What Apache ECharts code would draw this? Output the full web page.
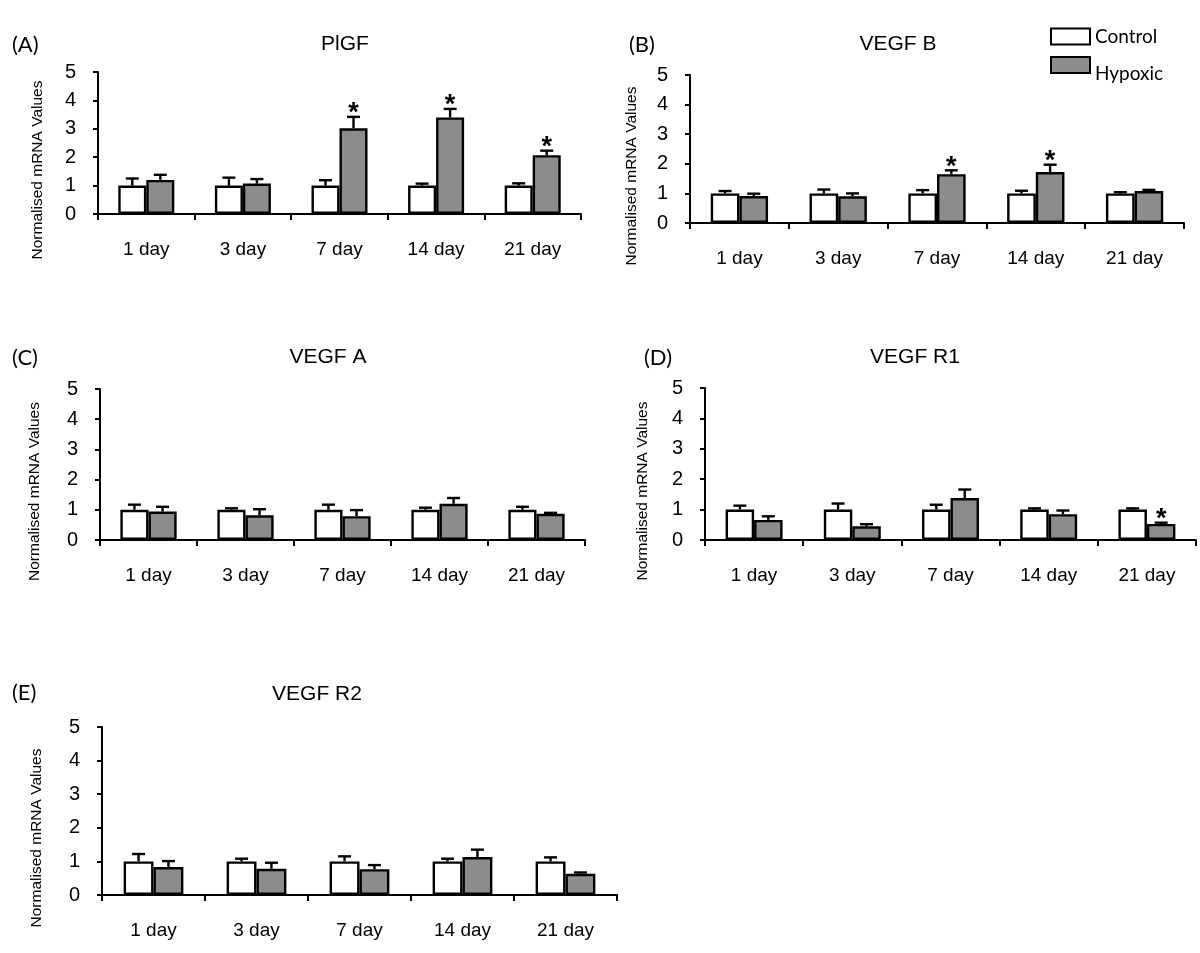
<!DOCTYPE html>
<html>
<head>
<meta charset="utf-8">
<script src="https://cdn.jsdelivr.net/npm/echarts@6/dist/echarts.min.js"></script>
<style>
html,body{margin:0;padding:0;background:#fff;}
#chart{width:1200px;height:953px;}
</style>
</head>
<body>
<div id="chart"></div>
<script>
// ---------- data ----------
const categories = ['1 day', '3 day', '7 day', '14 day', '21 day'];
const yTicks = [0, 1, 2, 3, 4, 5];

const panelLetters = ['(A)', '(B)', '(C)', '(D)', '(E)'];
const panelTitles = ['PlGF', 'VEGF B', 'VEGF A', 'VEGF R1', 'VEGF R2'];
const seriesNames = ['Control', 'Hypoxic'];
const yAxisName = 'Normalised mRNA Values';

// PlGF
const plgfControl = [1.0, 1.0, 1.0, 1.0, 1.0];
const plgfControlErr = [0.25, 0.28, 0.19, 0.07, 0.08];
const plgfHypoxic = [1.2, 1.07, 3.02, 3.4, 2.07];
const plgfHypoxicErr = [0.18, 0.16, 0.4, 0.3, 0.16];
const plgfSig = [0, 0, 1, 1, 1];

// VEGF B
const vegfbControl = [1.0, 1.0, 1.0, 1.0, 1.0];
const vegfbControlErr = [0.08, 0.13, 0.11, 0.09, 0.04];
const vegfbHypoxic = [0.91, 0.9, 1.65, 1.72, 1.08];
const vegfbHypoxicErr = [0.08, 0.1, 0.13, 0.25, 0.04];
const vegfbSig = [0, 0, 1, 1, 0];

// VEGF A
const vegfaControl = [1.0, 1.0, 1.0, 1.0, 1.0];
const vegfaControlErr = [0.17, 0.05, 0.17, 0.07, 0.1];
const vegfaHypoxic = [0.94, 0.82, 0.79, 1.2, 0.87];
const vegfaHypoxicErr = [0.16, 0.2, 0.2, 0.19, 0.03];
const vegfaSig = [0, 0, 0, 0, 0];

// VEGF R1
const vegfr1Control = [1.0, 1.0, 1.0, 1.0, 1.0];
const vegfr1ControlErr = [0.13, 0.2, 0.16, 0.04, 0.04];
const vegfr1Hypoxic = [0.66, 0.45, 1.38, 0.85, 0.53];
const vegfr1HypoxicErr = [0.12, 0.07, 0.28, 0.12, 0.04];
const vegfr1Sig = [0, 0, 0, 0, 1];

// VEGF R2
const vegfr2Control = [1.0, 1.0, 1.0, 1.0, 1.0];
const vegfr2ControlErr = [0.22, 0.08, 0.15, 0.08, 0.12];
const vegfr2Hypoxic = [0.83, 0.78, 0.77, 1.13, 0.63];
const vegfr2HypoxicErr = [0.18, 0.18, 0.12, 0.22, 0.04];
const vegfr2Sig = [0, 0, 0, 0, 0];

const panels = [
  [plgfControl, plgfControlErr, plgfHypoxic, plgfHypoxicErr, plgfSig],
  [vegfbControl, vegfbControlErr, vegfbHypoxic, vegfbHypoxicErr, vegfbSig],
  [vegfaControl, vegfaControlErr, vegfaHypoxic, vegfaHypoxicErr, vegfaSig],
  [vegfr1Control, vegfr1ControlErr, vegfr1Hypoxic, vegfr1HypoxicErr, vegfr1Sig],
  [vegfr2Control, vegfr2ControlErr, vegfr2Hypoxic, vegfr2HypoxicErr, vegfr2Sig]
];

// ---------- layout (styles, not data) ----------
const grids = [
  {left: 98, top: 72, width: 483, height: 142},
  {left: 690, top: 75, width: 494, height: 148},
  {left: 100, top: 389, width: 485, height: 151},
  {left: 705, top: 388, width: 491, height: 152},
  {left: 102, top: 727, width: 515, height: 168}
];
const nameGaps = [52, 50, 57, 54, 57];
const letterPos = [[7, 29], [624, 29], [7, 342], [639, 342], [7, 677]];
const titlePos = [[340, 29], [893, 29], [323, 342], [910, 342], [312, 679]];

const GAP_RATIO = 0.42;
const FILL = ['#ffffff', '#8c8c8c'];
const AXIS_FONT = '"Liberation Sans", Arial, sans-serif';
const LABEL_FONT = 'Lato, "Open Sans", sans-serif';

function errRender(params, api) {
  const idx = api.value(0);
  const val = api.value(1);
  const err = api.value(2);
  const side = api.value(3);
  const sig = api.value(4);
  const band = api.size([1, 0])[0];
  const bw = band * (1 - GAP_RATIO) / 2;
  const cx = api.coord([idx, 0])[0] + (side ? bw / 2 : -bw / 2);
  const yBar = api.coord([idx, val])[1];
  const yTop = api.coord([idx, val + err])[1];
  const style = {stroke: '#000', lineWidth: 2.4};
  const children = [
    {type: 'line', shape: {x1: cx, y1: yBar, x2: cx, y2: yTop}, style: style},
    {type: 'line', shape: {x1: cx - 6.5, y1: yTop, x2: cx + 6.5, y2: yTop}, style: style}
  ];
  if (sig) {
    children.push({
      type: 'text',
      style: {
        text: '*', x: cx, y: yTop - 3,
        textAlign: 'center', textVerticalAlign: 'middle',
        font: 'bold 27px ' + AXIS_FONT, fill: '#000'
      }
    });
  }
  return {type: 'group', children: children};
}

const option = {
  backgroundColor: '#fff',
  animation: false,
  title: [],
  legend: {
    orient: 'vertical',
    left: 1045,
    top: 22,
    itemWidth: 39,
    itemHeight: 16,
    itemGap: 10,
    icon: 'rect',
    textStyle: {
      fontFamily: LABEL_FONT, fontSize: 19, color: '#000',
      rich: {
        up: {fontFamily: LABEL_FONT, fontSize: 19, color: '#000'},
        down: {fontFamily: LABEL_FONT, fontSize: 19, color: '#000', padding: [18, 0, 0, 0]}
      }
    },
    formatter: function (name) {
      return name === 'Hypoxic' ? '{down|' + name + '}' : '{up|' + name + '}';
    },
    data: ['Control', 'Hypoxic']
  },
  grid: [],
  xAxis: [],
  yAxis: [],
  series: []
};

panels.forEach(function (p, k) {
  option.title.push({
    text: panelLetters[k], left: letterPos[k][0], top: letterPos[k][1],
    textStyle: {fontFamily: LABEL_FONT, fontWeight: 'normal', fontSize: 22, color: '#000'}
  });
  option.title.push({
    text: panelTitles[k], left: titlePos[k][0], top: titlePos[k][1], textAlign: 'center',
    textStyle: {fontFamily: AXIS_FONT, fontWeight: 'normal', fontSize: 21, color: '#000'}
  });
  option.grid.push(Object.assign({containLabel: false}, grids[k]));
  option.xAxis.push({
    type: 'category', gridIndex: k, data: categories,
    axisLine: {lineStyle: {color: '#000', width: 2}},
    axisTick: {show: true, alignWithLabel: false, length: 6, lineStyle: {color: '#000', width: 2}},
    axisLabel: {margin: 26, fontFamily: AXIS_FONT, fontSize: 19, color: '#000', interval: 0},
    splitLine: {show: false}
  });
  option.yAxis.push({
    type: 'value', gridIndex: k, min: yTicks[0], max: yTicks[yTicks.length - 1], interval: 1,
    name: yAxisName, nameLocation: 'middle', nameGap: nameGaps[k],
    nameTextStyle: {fontFamily: AXIS_FONT, fontSize: 15.5, color: '#000', padding: [0, 54, 0, 0]},
    axisLine: {show: true, lineStyle: {color: '#000', width: 2}},
    axisTick: {show: true, length: 5, lineStyle: {color: '#000', width: 2}},
    axisLabel: {margin: 22, fontFamily: AXIS_FONT, fontSize: 20, color: '#000'},
    splitLine: {show: false}
  });
  const vals = [p[0], p[2]];
  const errs = [p[1], p[3]];
  vals.forEach(function (v, s) {
    option.series.push({
      name: seriesNames[s], type: 'bar', xAxisIndex: k, yAxisIndex: k,
      data: v, barGap: '0%', barCategoryGap: (GAP_RATIO * 100) + '%',
      itemStyle: {color: FILL[s], borderColor: '#000', borderWidth: 2.4},
      z: 2
    });
  });
  const errData = [];
  for (let s = 0; s < 2; s++) {
    for (let i = 0; i < categories.length; i++) {
      errData.push([i, vals[s][i], errs[s][i], s, s === 1 ? p[4][i] : 0]);
    }
  }
  option.series.push({
    type: 'custom', xAxisIndex: k, yAxisIndex: k, renderItem: errRender,
    data: errData, encode: {x: 0, y: 1}, z: 5, silent: true
  });
});

const chart = echarts.init(document.getElementById('chart'), null, {renderer: 'canvas'});
chart.setOption(option);
</script>
</body>
</html>
